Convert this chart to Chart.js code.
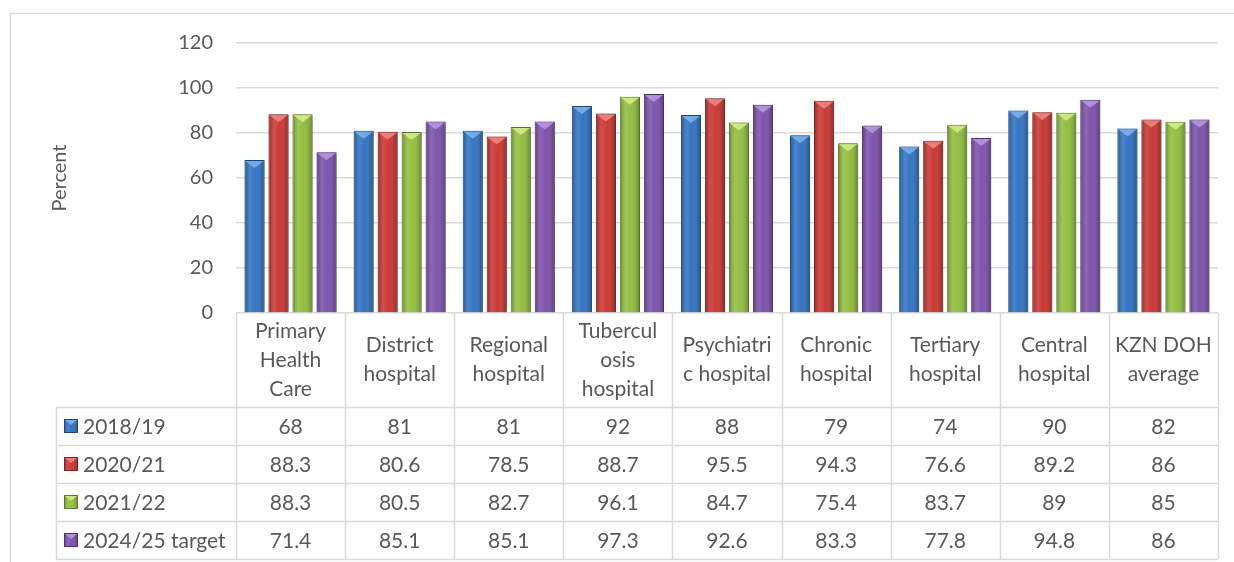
<!DOCTYPE html>
<html>
<head>
<meta charset="utf-8">
<script src="https://cdn.jsdelivr.net/npm/chart.js@4.4.1/dist/chart.umd.min.js"></script>
<style>
    html, body { margin: 0; padding: 0; background: #ffffff; }
    #wrap { width: 1234px; height: 562px; }
</style>
</head>
<body>
<div id="wrap"><canvas id="chart" width="1234" height="562"></canvas></div>
<script>
// category headers, already split the way the table cells wrap them
const categories = [
    ['Primary', 'Health', 'Care'],
    ['District', 'hospital'],
    ['Regional', 'hospital'],
    ['Tubercul', 'osis', 'hospital'],
    ['Psychiatri', 'c hospital'],
    ['Chronic', 'hospital'],
    ['Tertiary', 'hospital'],
    ['Central', 'hospital'],
    ['KZN DOH', 'average']
];
const seriesNames = ['2018/19', '2020/21', '2021/22', '2024/25 target'];
const values1819 = [68, 81, 81, 92, 88, 79, 74, 90, 82];
const values2021 = [88.3, 80.6, 78.5, 88.7, 95.5, 94.3, 76.6, 89.2, 86];
const values2122 = [88.3, 80.5, 82.7, 96.1, 84.7, 75.4, 83.7, 89, 85];
const target2425 = [71.4, 85.1, 85.1, 97.3, 92.6, 83.3, 77.8, 94.8, 86];
const yTicks = [0, 20, 40, 60, 80, 100, 120];

const fills = ['#2c6fc0', '#c8312d', '#8fbc3a', '#7a4daa'];
const edges = ['#1d4a80', '#842020', '#5d7d25', '#4f3172'];
const facets = ['#7fb3ec', '#f08a86', '#d5ef8e', '#b89be0'];

const textColor = '#595959';
const lineColor = '#d9d9d9';
const fontFamily = "Lato, 'Open Sans', sans-serif";

const headerHeight = 94;
const rowHeight = 38;
const legendLeft = 56;

// shading + top bevel facet, same look for bars and legend keys
function shadeBox(ctx, left, top, width, height, i, facetH) {
    const g = ctx.createLinearGradient(left, 0, left + width, 0);
    g.addColorStop(0, 'rgba(0,0,0,0.30)');
    g.addColorStop(0.3, 'rgba(255,255,255,0.14)');
    g.addColorStop(0.55, 'rgba(255,255,255,0.04)');
    g.addColorStop(1, 'rgba(0,0,0,0.32)');
    ctx.fillStyle = g;
    ctx.fillRect(left + 1, top + 1, width - 2, height - 1);

    ctx.beginPath();
    ctx.moveTo(left + 1, top + 1);
    ctx.lineTo(left + width - 1, top + 1);
    ctx.lineTo(left + width / 2, top + facetH);
    ctx.closePath();
    ctx.fillStyle = facets[i];
    ctx.globalAlpha = 0.85;
    ctx.fill();
    ctx.globalAlpha = 1;
}

const barShadow = {
    id: 'barShadow',
    beforeDatasetsDraw(chart) {
        const ctx = chart.ctx;
        ctx.save();
        ctx.shadowColor = 'rgba(0,0,0,0.3)';
        ctx.shadowBlur = 3;
        ctx.shadowOffsetX = 1;
    },
    afterDatasetsDraw(chart) {
        const ctx = chart.ctx;
        ctx.restore();
        ctx.save();
        chart.data.datasets.forEach((ds, di) => {
            chart.getDatasetMeta(di).data.forEach(bar => {
                const p = bar.getProps(['x', 'y', 'width', 'base'], true);
                shadeBox(ctx, p.x - p.width / 2, p.y, p.width, p.base - p.y, di, 8);
            });
        });
        ctx.restore();
    }
};

const dataTable = {
    id: 'dataTable',
    afterDraw(chart) {
        const ctx = chart.ctx;
        const area = chart.chartArea;
        const xs = chart.scales.x;
        const colW = (area.right - area.left) / categories.length;
        const top = area.bottom;
        const rowsTop = top + headerHeight;
        const bottom = rowsTop + rowHeight * seriesNames.length;

        ctx.save();
        // outer chart frame
        ctx.strokeStyle = lineColor;
        ctx.lineWidth = 1.5;
        ctx.strokeRect(10.5, 13.5, 1300, 600);

        // table grid
        ctx.lineWidth = 1.5;
        ctx.beginPath();
        for (let c = 0; c <= categories.length; c++) {
            const x = Math.round(area.left + c * colW) + 0.5;
            ctx.moveTo(x, top);
            ctx.lineTo(x, bottom);
        }
        ctx.moveTo(legendLeft + 0.5, rowsTop);
        ctx.lineTo(legendLeft + 0.5, bottom);
        for (let r = 0; r <= seriesNames.length; r++) {
            const y = Math.round(rowsTop + r * rowHeight) + 0.5;
            ctx.moveTo(legendLeft, y);
            ctx.lineTo(area.right, y);
        }
        ctx.stroke();

        ctx.fillStyle = textColor;
        ctx.textAlign = 'center';
        ctx.textBaseline = 'middle';
        ctx.font = `21px ${fontFamily}`;

        // header cells
        const lineH = 29;
        categories.forEach((lines, c) => {
            const cx = xs.getPixelForValue(c);
            const cy = top + headerHeight / 2;
            lines.forEach((txt, k) => {
                ctx.fillText(txt, cx, cy + (k - (lines.length - 1) / 2) * lineH);
            });
        });

        // value rows with legend keys
        chart.data.datasets.forEach((ds, di) => {
            const cy = rowsTop + di * rowHeight + rowHeight / 2;
            ds.data.forEach((v, c) => {
                ctx.fillStyle = textColor;
                ctx.textAlign = 'center';
                ctx.fillText(String(v), xs.getPixelForValue(c), cy + 1);
            });
            const kx = 64, ky = Math.round(cy - 7);
            ctx.fillStyle = fills[di];
            ctx.fillRect(kx, ky, 14, 14);
            shadeBox(ctx, kx, ky, 14, 14, di, 6);
            ctx.strokeStyle = edges[di];
            ctx.lineWidth = 1;
            ctx.strokeRect(kx + 0.5, ky + 0.5, 13, 13);
            ctx.fillStyle = textColor;
            ctx.textAlign = 'left';
            ctx.fillText(ds.label, 83, cy + 1);
        });
        ctx.restore();
    }
};

const allValues = [values1819, values2021, values2122, target2425];

new Chart(document.getElementById('chart'), {
    type: 'bar',
    data: {
        labels: categories.map(l => l.join(' ')),
        datasets: seriesNames.map((name, i) => ({
            label: name,
            data: allValues[i],
            backgroundColor: fills[i],
            borderColor: edges[i],
            borderWidth: 1,
            categoryPercentage: 0.88,
            barPercentage: 0.84
        }))
    },
    options: {
        responsive: false,
        animation: false,
        devicePixelRatio: 1,
        layout: { padding: { left: 10, top: 43, right: 16, bottom: 249 } },
        plugins: {
            legend: { display: false },
            tooltip: { enabled: false }
        },
        scales: {
            x: { display: false },
            y: {
                min: 0,
                max: 120,
                afterBuildTicks: scale => { scale.ticks = yTicks.map(v => ({ value: v })); },
                afterFit: scale => { scale.width = 226; },
                grid: { color: lineColor, lineWidth: 1.5, drawTicks: false },
                border: { display: false },
                ticks: {
                    color: textColor,
                    padding: 23,
                    font: { family: fontFamily, size: 20 }
                },
                title: {
                    display: true,
                    text: 'Percent',
                    color: textColor,
                    font: { family: fontFamily, size: 20 },
                    padding: { top: 38, bottom: 0 }
                }
            }
        }
    },
    plugins: [barShadow, dataTable]
});
</script>
</body>
</html>
